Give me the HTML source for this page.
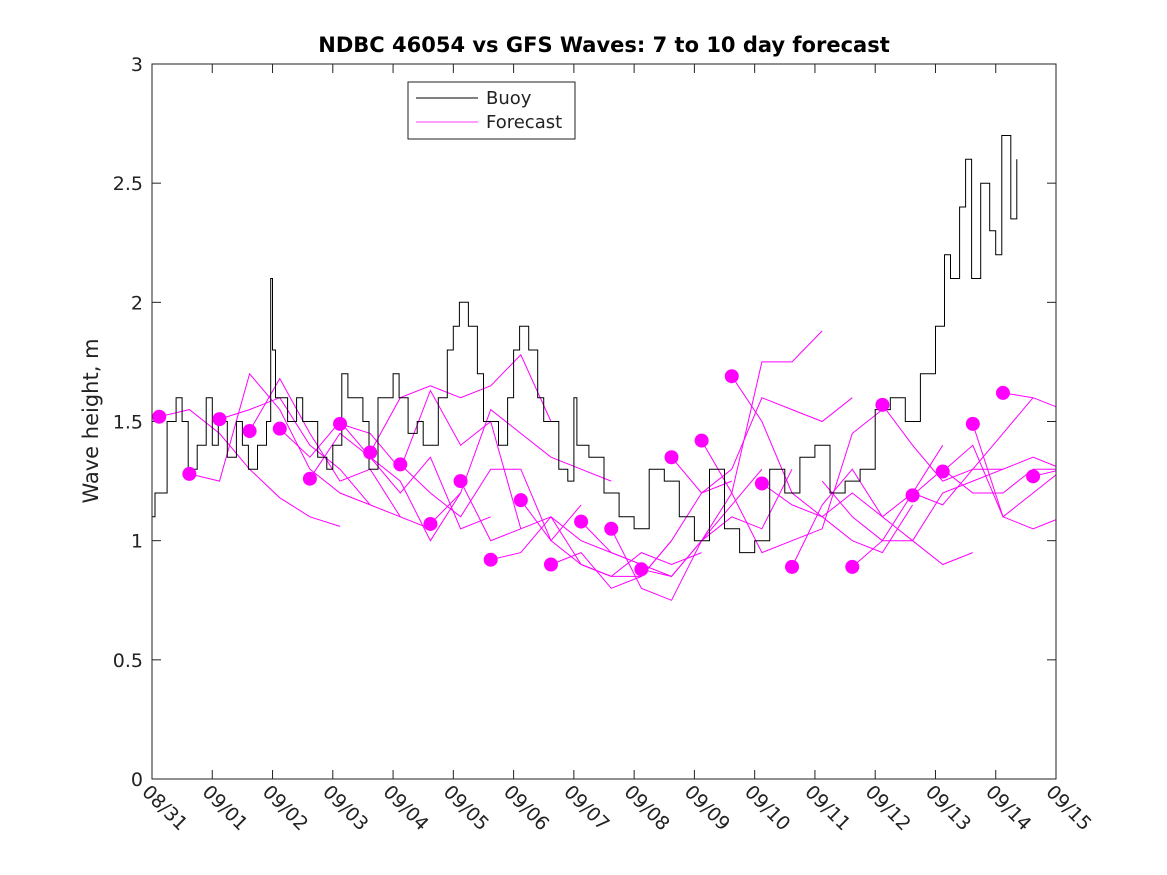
<!DOCTYPE html>
<html><head><meta charset="utf-8"><style>
body{margin:0;background:#fff}
svg{display:block;font-family:"DejaVu Sans","Liberation Sans",sans-serif}
</style></head><body>
<svg id="c" width="1167" height="875">
<rect width="1167" height="875" fill="#fff"/>
<text x="604" y="52" text-anchor="middle" font-weight="bold" font-size="21" fill="#000">NDBC 46054 vs GFS Waves: 7 to 10 day forecast</text>
<text transform="translate(98,421) rotate(-90)" text-anchor="middle" font-size="21" fill="#222">Wave height, m</text>
<g id="grid"></g>
<g id="marks"></g>
<rect x="152" y="64" width="904" height="715" fill="none" stroke="#222" stroke-width="1"/>
<g>
<rect x="408" y="82" width="167" height="57" fill="#fff" stroke="#222"/>
<line x1="416" y1="98" x2="478" y2="98" stroke="#000"/>
<text x="486" y="104" font-size="18" fill="#222">Buoy</text>
<line x1="416" y1="122" x2="478" y2="122" stroke="#f0f" stroke-width="0.8"/>
<text x="486" y="128" font-size="18" fill="#222">Forecast</text>
</g>
</svg>
<script>
const xTicks=["08/31","09/01","09/02","09/03","09/04","09/05","09/06","09/07","09/08","09/09","09/10","09/11","09/12","09/13","09/14","09/15"];
const yTicks=[0,0.5,1,1.5,2,2.5,3];
const buoyDays=[0,0.05,0.25,0.4,0.5,0.6,0.75,0.9,1.0,1.1,1.25,1.4,1.5,1.6,1.75,1.9,1.97,2.0,2.05,2.25,2.4,2.5,2.75,2.9,3.0,3.15,3.25,3.5,3.6,3.75,4.0,4.1,4.25,4.4,4.5,4.75,4.9,5.0,5.1,5.25,5.4,5.5,5.75,5.9,6.0,6.1,6.25,6.4,6.5,6.75,6.9,7.0,7.05,7.25,7.5,7.75,8.0,8.25,8.5,8.75,9.0,9.25,9.5,9.75,10.0,10.25,10.5,10.75,11.0,11.25,11.5,11.75,12.0,12.25,12.5,12.75,13.0,13.15,13.25,13.4,13.5,13.6,13.75,13.9,14.0,14.1,14.25,14.35];
const buoyVals=[1.1,1.2,1.5,1.6,1.5,1.3,1.4,1.6,1.4,1.5,1.35,1.5,1.4,1.3,1.4,1.5,2.1,1.8,1.6,1.5,1.6,1.5,1.35,1.3,1.4,1.7,1.6,1.5,1.3,1.6,1.7,1.6,1.45,1.5,1.4,1.6,1.8,1.9,2.0,1.9,1.7,1.5,1.4,1.6,1.8,1.9,1.8,1.6,1.5,1.3,1.25,1.6,1.4,1.35,1.2,1.1,1.05,1.3,1.25,1.1,1.0,1.3,1.05,0.95,1.0,1.3,1.2,1.35,1.4,1.2,1.25,1.3,1.55,1.6,1.5,1.7,1.9,2.2,2.1,2.4,2.6,2.1,2.5,2.3,2.2,2.7,2.35,2.6];
const dotVals=[1.52,1.28,1.51,1.46,1.47,1.26,1.49,1.37,1.32,1.07,1.25,0.92,1.17,0.90,1.08,1.05,0.88,1.35,1.42,1.69,1.24,0.89,null,0.89,1.57,1.19,1.29,1.49,1.62,1.27];
const fcLines=[
[1.52,1.55,1.45,1.3,1.18,1.1,1.06],
[1.28,1.25,1.7,1.55,1.3,1.2,1.15],
[1.51,1.55,1.6,1.4,1.3,1.15,1.1],
[1.46,1.68,1.45,1.25,1.3,1.1,1.05],
[1.47,1.35,1.5,1.35,1.25,1.0,1.2],
[1.26,1.45,1.35,1.2,1.35,1.05,1.1],
[1.49,1.45,1.3,1.63,1.4,1.5,1.05],
[1.37,1.6,1.65,1.6,1.65,1.78,1.5],
[1.32,1.2,1.1,1.3,1.3,1.0,1.15],
[1.07,1.2,1.55,1.45,1.35,1.3,1.25],
[1.25,1.0,1.05,1.1,1.0,0.95,0.9],
[0.92,0.95,1.1,0.9,0.85,0.85,1.0],
[1.17,1.0,0.9,0.85,0.95,0.9,0.95],
[0.90,0.95,0.8,0.85,1.0,1.2,1.25],
[1.08,0.95,0.9,0.85,1.0,1.15,1.3],
[1.05,0.8,0.75,1.0,1.1,1.05,1.3],
[0.88,0.85,1.0,1.2,1.75,1.75,1.88],
[1.35,1.2,1.3,1.6,1.55,1.5,1.6],
[1.42,1.2,0.95,1.0,1.05,1.45,1.55],
[1.69,1.5,1.2,1.1,1.0,0.95,1.15],
[1.24,1.15,1.1,1.2,1.1,1.2,1.4],
[0.89,1.15,1.3,1.1,1.0,0.9,0.95],
[1.25,1.1,1.0,1.0,1.2,1.25,1.3],
[0.89,1.0,1.2,1.15,1.3,1.45,1.6],
[1.57,1.4,1.25,1.3,1.3,1.35,1.3],
[1.19,1.3,1.2,1.2,1.3,1.3,1.4],
[1.29,1.4,1.1,1.2,1.3,1.45,1.6],
[1.49,1.1,1.05,1.1,1.6,1.4,1.5],
[1.62,1.6,1.55,1.6,1.7],
[1.27,1.3,1.7]
];
const NS="http://www.w3.org/2000/svg";
const X0=152,X1=1056,Y0=779,Y1=64;
const xs=d=>X0+(X1-X0)*d/15;
const ys=v=>Y0-(Y0-Y1)*v/3;
function mk(t,a,p){const e=document.createElementNS(NS,t);for(const k in a)e.setAttribute(k,a[k]);p.appendChild(e);return e;}
const grid=document.getElementById('grid'),marks=document.getElementById('marks');
yTicks.forEach(v=>{
 const y=ys(v);
 const l=mk('line',{x1:X0,x2:X0+9,y1:y,y2:y,stroke:'#222'},grid);
 
 
 const r=mk('line',{x1:X1-9,x2:X1,y1:y,y2:y,stroke:'#222'},grid);
 
 
 const t=mk('text',{x:X0-9,y:y+7,'text-anchor':'end','font-size':'19',fill:'#222'},grid);
 t.textContent=String(v);
 
 
});
xTicks.forEach((s,i)=>{
 const x=xs(i);
 const l=mk('line',{x1:x,x2:x,y1:Y0,y2:Y0-9,stroke:'#222'},grid);
 
 
 const u=mk('line',{x1:x,x2:x,y1:Y1,y2:Y1+9,stroke:'#222'},grid);
 
 
 const t=mk('text',{transform:`translate(${x-11},${Y0+14}) rotate(45)`,'font-size':'19',fill:'#222'},grid);
 t.textContent=s;
 
 
});
const cp=mk('clipPath',{id:'clip'},marks);mk('rect',{x:X0,y:Y1,width:X1-X0,height:Y0-Y1},cp);
const g=mk('g',{'clip-path':'url(#clip)'},marks);
fcLines.forEach((vals,i)=>{
 const t0=0.12+0.5*i;
 const p=vals.map((v,j)=>`${xs(t0+0.5*j).toFixed(1)},${ys(v).toFixed(1)}`).join(' ');
 const pl=mk('polyline',{points:p,fill:'none',stroke:'#f0f','stroke-width':'1'},g);
 
 
});
let bp=[];
buoyDays.forEach((d,i)=>{
 if(i>0)bp.push(`${xs(d).toFixed(1)},${ys(buoyVals[i-1]).toFixed(1)}`);
 bp.push(`${xs(d).toFixed(1)},${ys(buoyVals[i]).toFixed(1)}`);
});
const bl=mk('polyline',{points:bp.join(' '),fill:'none',stroke:'#000','stroke-width':'1'},g);


dotVals.forEach((v,i)=>{
 if(v===null)return;
 const c=mk('circle',{cx:xs(0.12+0.5*i),cy:ys(v),r:7,fill:'#f0f'},g);
 
 
});
</script>
</body></html>
